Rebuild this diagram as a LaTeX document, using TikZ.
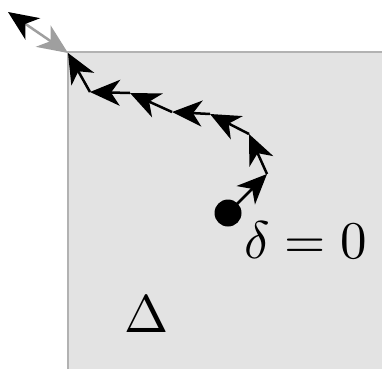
\documentclass[tikz,border=0pt]{standalone}
\usetikzlibrary{arrows.meta}
\begin{document}
\begin{tikzpicture}[x=1pt,y=-1pt,
  seg/.style={line width=2.5pt, black, -{Stealth[length=30pt,width=26pt,inset=9pt]}},
  grayseg/.style={line width=2.5pt, gray!75, {Stealth[length=30pt,width=26pt,inset=9pt,color=gray!75]}-{Stealth[length=30pt,width=26pt,inset=9pt,color=black]}},
  lbl/.style={scale=5.3, inner sep=0pt}]
\useasboundingbox (0,0) rectangle (382,369);
\fill[gray!22] (68,52) rectangle (382,369);
\draw[gray!60, line width=1.6pt] (68,369) -- (68,52) -- (382,52);
\coordinate (v1) at (267,174);
\coordinate (v2) at (249,134);
\coordinate (v3) at (210,114);
\coordinate (v4) at (172,112);
\coordinate (v5) at (130,93);
\coordinate (v6) at (90,92);
\coordinate (v7) at (68,53);
\coordinate (far) at (8,12);
\node[circle, fill=black, minimum size=27pt, inner sep=0pt] (dot) at (228,213) {};
\draw[seg] (dot.center) -- (v1);
\draw[seg] (v1) -- (v2);
\draw[seg] (v2) -- (v3);
\draw[seg] (v3) -- (v4);
\draw[seg] (v4) -- (v5);
\draw[seg] (v5) -- (v6);
\draw[seg] (v6) -- (v7);
\draw[grayseg] (v7) -- (far);
\node[lbl, anchor=base] (delta) at (306,258) {$\delta = 0$};
\node[lbl] (Delta) at (147,314) {$\Delta$};
\end{tikzpicture}
\end{document}
